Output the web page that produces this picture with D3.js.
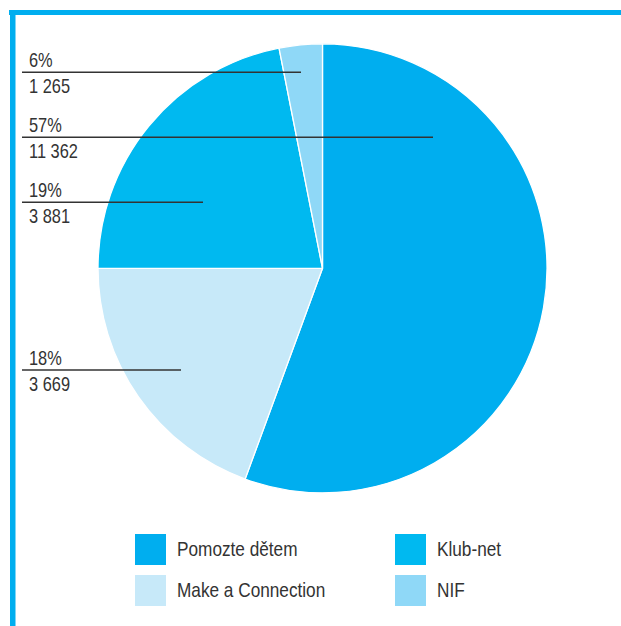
<!DOCTYPE html>
<html>
<head>
<meta charset="utf-8">
<script src="https://cdn.jsdelivr.net/npm/d3@7"></script>
<style>
  html, body { margin: 0; padding: 0; background: #fff; }
  svg { display: block; }
  text { font-family: "Liberation Sans", Arial, sans-serif; fill: #333; }
</style>
</head>
<body>
<svg id="chart" width="621" height="626"></svg>
<script>
// ---- data ----
const categories = ["Pomozte dětem", "Make a Connection", "Klub-net", "NIF"];
// slice sizes as drawn in the picture (share of the circle, %)
const sliceShares = [55.6, 19.4, 21.9, 3.1];
const percentLabels = ["57%", "18%", "19%", "6%"];
const valueLabels = ["11 362", "3 669", "3 881", "1 265"];
const sliceColors = ["#00aeef", "#c7e9f9", "#00b9f0", "#8fd8f7"];
// order of callouts top-to-bottom (indices into categories)
const calloutOrder = [3, 0, 2, 1];
// legend order: row-major, two columns
const legendOrder = [0, 2, 1, 3];

// ---- layout ----
const W = 621, H = 626;
const cx = 322.5, cy = 268.3, R = 224.5;
const calloutY = [72.3, 137.3, 202.3, 370];
const calloutEndX = [301, 433, 203, 181];
const narrow = 0.82; // horizontal condensing of the text face

const svg = d3.select("#chart");

// frame lines
svg.append("rect").attr("x", 9).attr("y", 10).attr("width", W - 9).attr("height", 5).attr("fill", "#00aeef");
svg.append("rect").attr("x", 10).attr("y", 10).attr("width", 5.5).attr("height", H - 10).attr("fill", "#00aeef");

const color = d3.scaleOrdinal().domain(categories).range(sliceColors);

const pie = d3.pie().sort(null).value(d => d.share);
const arcs = pie(categories.map((c, i) => ({ name: c, share: sliceShares[i] })));
const arc = d3.arc().innerRadius(0).outerRadius(R);

const g = svg.append("g").attr("transform", `translate(${cx},${cy})`);
g.selectAll("path").data(arcs).join("path")
  .attr("d", arc)
  .attr("fill", d => color(d.data.name))
  .attr("stroke", "#ffffff")
  .attr("stroke-width", 1.3)
  .attr("stroke-linejoin", "round");

function addText(parent, x, y, size, str) {
  parent.append("text")
    .attr("transform", `translate(${x},${y}) scale(${narrow},1)`)
    .attr("font-size", size)
    .text(str);
}

// callouts
const callouts = svg.append("g");
calloutOrder.forEach((idx, k) => {
  const y = calloutY[k];
  callouts.append("line")
    .attr("x1", 22).attr("x2", calloutEndX[k])
    .attr("y1", y).attr("y2", y)
    .attr("stroke", "#333").attr("stroke-width", 1.4);
  addText(callouts, 29, y - 5, 20, percentLabels[idx]);
  addText(callouts, 29, y + 21, 20, valueLabels[idx]);
});

// legend
const legend = svg.append("g");
const colX = [135, 395], rowY = [534, 575], sw = 31;
legendOrder.forEach((idx, k) => {
  const col = k % 2, row = Math.floor(k / 2);
  legend.append("rect")
    .attr("x", colX[col]).attr("y", rowY[row])
    .attr("width", sw).attr("height", sw)
    .attr("fill", color(categories[idx]));
  addText(legend, colX[col] + 42, rowY[row] + 22, 21, categories[idx]);
});
</script>
</body>
</html>
